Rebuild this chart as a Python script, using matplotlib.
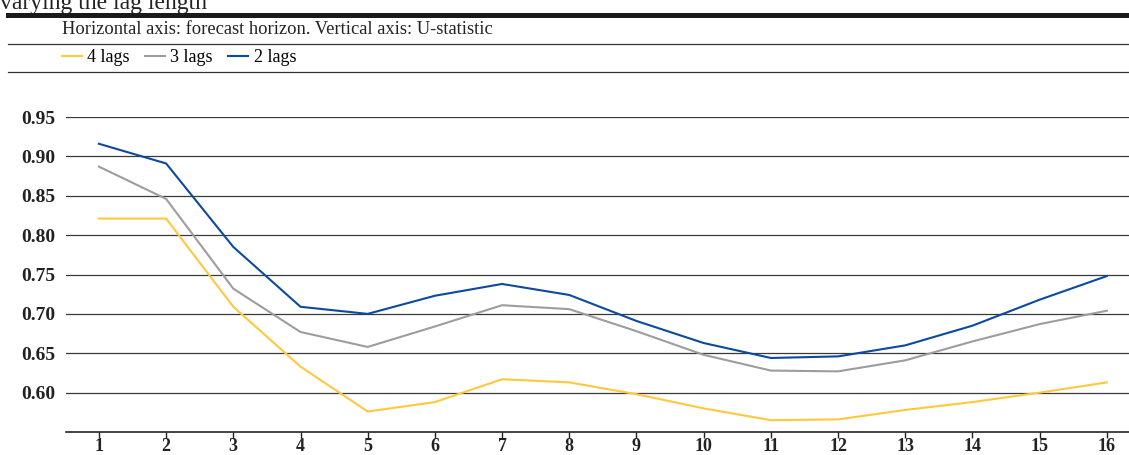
import matplotlib.pyplot as plt
from matplotlib.lines import Line2D

# forecast horizon
horizon = list(range(1, 17))

# U-statistic by lag length
lags_4 = [0.821, 0.821, 0.709, 0.633, 0.576, 0.588, 0.617, 0.613,
          0.598, 0.580, 0.565, 0.566, 0.578, 0.588, 0.600, 0.613]
lags_3 = [0.887, 0.846, 0.732, 0.677, 0.658, 0.684, 0.711, 0.706,
          0.678, 0.648, 0.628, 0.627, 0.641, 0.665, 0.687, 0.704]
lags_2 = [0.916, 0.891, 0.785, 0.709, 0.700, 0.723, 0.738, 0.724,
          0.691, 0.663, 0.644, 0.646, 0.660, 0.685, 0.718, 0.748]

y_ticks = [0.60, 0.65, 0.70, 0.75, 0.80, 0.85, 0.90, 0.95]

plt.rcParams['font.family'] = ['Liberation Serif', 'DejaVu Serif']

W, H = 1129, 455
fig = plt.figure(figsize=(W / 100, H / 100), dpi=100)
ax = fig.add_axes([66 / W, 1 - 432 / H, 1 - 66 / W, (432 - 117) / H])

colors = {'4 lags': '#FFC83D', '3 lags': '#9d9d9d', '2 lags': '#0b4a9f'}
ax.plot(horizon, lags_4, color=colors['4 lags'], lw=1.5, label='4 lags')
ax.plot(horizon, lags_3, color=colors['3 lags'], lw=1.5, label='3 lags')
ax.plot(horizon, lags_2, color=colors['2 lags'], lw=1.5, label='2 lags')

ax.set_xlim(0.51, 16.33)
ax.set_ylim(0.55, 0.95)
ax.set_xticks(horizon)
ax.set_yticks(y_ticks)
ax.set_yticklabels([f"{v:.2f}" for v in y_ticks])
ax.grid(axis='y', color='#3a3a3a', lw=0.9)
ax.set_axisbelow(True)
for s in ['top', 'left', 'right']:
    ax.spines[s].set_visible(False)
ax.spines['bottom'].set_color('#222222')
ax.spines['bottom'].set_linewidth(1.2)
ax.tick_params(axis='x', length=4, width=1, color='#222222', pad=0.5)
ax.tick_params(axis='y', length=0, pad=8)
for lab in ax.get_xticklabels():
    lab.set_fontweight('bold')
    lab.set_fontsize(13)
    lab.set_color('#222222')
for lab in ax.get_yticklabels():
    lab.set_fontweight('bold')
    lab.set_fontsize(14)
    lab.set_color('#222222')

# header rules and captions
fig.add_artist(Line2D([8 / W, 1], [1 - 14.5 / H] * 2, color='#1a1a1a', lw=3.6))
fig.add_artist(Line2D([8 / W, 1], [1 - 44 / H] * 2, color='#333333', lw=0.9))
fig.add_artist(Line2D([8 / W, 1], [1 - 72 / H] * 2, color='#333333', lw=0.9))
fig.text(0, 1 - 3 / H, "varying the lag length", fontsize=17, va='center',
         ha='left', color='#222222')
fig.text(62 / W, 1 - 29 / H,
         "Horizontal axis: forecast horizon. Vertical axis: U-statistic",
         fontsize=13.3, va='center', ha='left', color='#222222')

fig.legend(loc='center left', bbox_to_anchor=(62 / W, 1 - 58 / H), ncol=3,
           frameon=False, fontsize=13, handlelength=1.1, handletextpad=0.3,
           columnspacing=0.85, borderaxespad=0, borderpad=0)

fig.savefig('out.png', dpi=100)
